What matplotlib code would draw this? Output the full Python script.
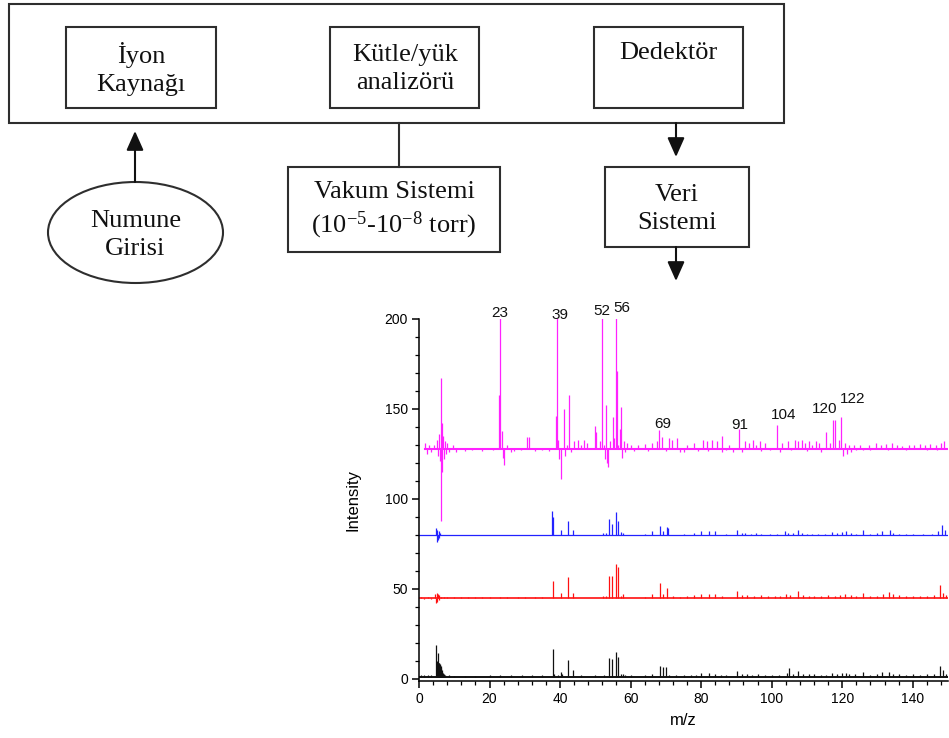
import matplotlib
matplotlib.use('Agg')
import matplotlib.pyplot as plt
from matplotlib.patches import Rectangle, Ellipse
from matplotlib.ticker import MultipleLocator

plt.rcParams['mathtext.fontset'] = 'custom'
plt.rcParams['mathtext.rm'] = 'Liberation Serif'
plt.rcParams['mathtext.it'] = 'Liberation Serif:italic'

# ---- block diagram labels ----
box_labels = ['İyon\nKaynağı', 'Kütle/yük\nanalizörü', 'Dedektör',
              'Vakum Sistemi\n(10$^{-5}$-10$^{-8}$ torr)', 'Veri\nSistemi']
inlet_label = 'Numune\nGirisi'

# ---- spectra (m/z, intensity at stick top) ----
baselines = [128, 80, 45, 1]
starts = [1.7, 0, 0.3, 0]
colors = ['#ff22ff', '#2222ff', '#ff1111', '#111111']

mag_mz = [1.8, 2.2, 2.8, 3.3, 4.2, 5.0, 5.4, 5.8, 6.0, 6.24, 6.3, 6.5, 6.6, 6.8, 7.0,
          7.3, 7.6, 8.0, 8.5, 9.5, 10.5, 13, 15, 18, 21, 22.6, 23.0, 23.5, 23.7, 24.1,
          25, 26, 27, 29, 30.5, 31.2, 33, 35, 37, 38.9, 39.0, 39.4, 39.8, 40.3, 41.0,
          41.5, 42.0, 42.6, 43.2, 44.0, 45.0, 46.0, 46.9, 47.5, 49.8, 50.2, 51.2, 52.0,
          52.4, 52.7, 53.0, 53.3, 53.7, 54.2, 55.0, 55.4, 55.8, 56.1, 56.5, 56.9, 57.3,
          57.6, 58.0, 58.5, 59, 60, 61, 62, 64, 65, 66, 67.5, 68.1, 68.8, 70, 70.9,
          71.7, 73.1, 74, 75, 76, 78, 79, 80.6, 81.7, 82, 83, 84.4, 85.8, 86, 87, 88,
          89, 90.7, 91.5, 92.4, 93.5, 94.6, 95.5, 96.7, 97, 98, 99.5, 101.6, 102.5, 103,
          104.5, 105.5, 106.5, 107.5, 108.5, 109.5, 110, 110.5, 111.5, 112.5, 113.5, 114,
          115.4, 116.4, 117.3, 118.0, 119.0, 119.7, 120.2, 120.8, 121.3, 121.8, 122.5,
          123.3, 124, 125, 126, 127.5, 128, 129.5, 131, 132.5, 133, 134, 135.5, 137, 138,
          139, 140.5, 142, 143.5, 144, 145, 146.5, 147, 148, 149]
mag_top = [131, 125, 130, 126, 130, 133, 124, 136, 121, 167, 88, 142, 115, 135, 122,
           132, 125, 131, 126, 130, 126, 126.5, 127, 126.5, 127, 158, 215, 138, 123, 119,
           130, 126, 126.5, 127, 134.6, 134.6, 126.5, 127, 126.5, 146, 215, 133, 122, 111, 150,
           124, 130, 158, 126, 132, 133, 130, 133, 131, 140.6, 137, 132, 215,
           130, 122, 152, 120, 118, 132, 145.7, 134, 215, 171, 130, 139, 151,
           123, 132, 126, 131, 130, 126.5, 130, 130.5, 126.5, 131, 132, 138.3, 134.6, 126.5, 134,
           133, 134, 126, 126, 130, 131, 126.5, 133, 132, 126.5, 133, 132, 135, 126, 127, 130,
           126, 139, 126, 132, 131, 133, 130, 132, 126.5, 131, 127, 141, 126, 131,
           132, 127, 133, 132, 133, 131, 126.5, 132, 130, 132, 131, 126,
           137, 131, 144, 144, 133, 145.3, 124, 131, 125, 130, 126,
           130, 127, 130, 127, 130, 127, 131, 130, 130.5, 127, 131, 130, 129.5, 127,
           130, 130, 130.5, 130, 127, 130.5, 130, 127, 131, 132]

blue_mz = [4.8, 5.0, 5.2, 5.4, 5.6, 5.8, 6.0, 37.8, 38.0, 40.2, 42.2, 43.8, 52.3, 53.0,
           54.0, 54.6, 56.0, 56.5, 57.2, 57.9, 64, 66.2, 68.3, 69.3, 70.2, 70.5, 75, 78,
           80.1, 82.1, 84, 87, 90.1, 91.5, 92.5, 94, 95.5, 97, 99.5, 101.5, 103.8, 104.5,
           106, 107.6, 108.5, 110, 111.5, 113, 115, 117, 118.5, 120, 121.2, 122.5, 124,
           126, 128, 130, 131.2, 133.5, 134.5, 136, 138, 140, 143, 145.5, 147.3, 148.2, 149.1]
blue_top = [84, 76, 83, 77, 82, 78.5, 81, 93.5, 90, 82.8, 88, 83, 81, 81.2,
            89, 86, 93, 88, 81.5, 81, 80.5, 82, 85, 82, 84.5, 84, 80.5, 81,
            82, 82.5, 82, 80.5, 83, 81, 81, 80.6, 81, 80.5, 80.6, 80.5, 82, 81,
            81, 83, 81, 80.7, 80.6, 80.6, 80.5, 81.5, 81, 81.5, 82.5, 81, 80.7,
            83, 80.6, 81, 82.5, 83, 81, 80.5, 80.6, 80.5, 80.6, 80.8, 82, 85.7, 83]

red_mz = [0.5, 1.5, 2.5, 3.5, 4.6, 4.8, 5.0, 5.2, 5.4, 5.6, 5.8, 6.2, 7, 8, 10, 12, 14,
          16, 18, 20, 23, 25, 28, 30, 33, 35, 37.9, 40.2, 42.2, 43.8, 52.3, 53.0, 54.0,
          54.6, 56.0, 56.5, 57.2, 57.9, 64, 66.2, 68.3, 69.3, 70.2, 72, 74, 76, 78, 80.1,
          82.1, 84, 86, 90.3, 91.5, 93, 95, 97, 99, 101, 102.5, 104, 105.2, 107.6, 109,
          110.5, 112, 114, 116, 118, 119.5, 120.8, 122.5, 124, 126, 128, 130, 131.5,
          133.4, 134.5, 136, 138, 140, 142, 144, 146, 147.7, 148.6, 149.5]
red_top = [45.8, 44.3, 45.6, 44.4, 47.5, 42.5, 48, 43, 47, 44, 46.5, 45.8, 45.6, 45.5,
           45.4, 45.5, 45.4, 45.5, 45.5, 45.4, 45.6, 45.5, 45.6, 45.5, 45.4, 45.5, 54.6,
           47.6, 56.5, 48, 46, 46.2, 57.2, 57, 63.9, 62, 46.3, 47, 45.8, 47, 53.1, 47,
           50.4, 46, 45.8, 46.2, 46.5, 47, 47.5, 47, 46, 49, 46.5, 46.5, 46.2, 46.5,
           46.2, 46, 46.2, 47.5, 46.5, 49, 46.5, 46.2, 46.2, 46, 46.5, 46.3, 46.5, 47.5,
           46.5, 46.3, 48, 46, 46.3, 47.5, 48.5, 47, 46.5, 46.3, 46, 46, 46.2, 46.5,
           52.2, 48, 46.5]

black_mz = [0.5, 1.5, 2.5, 3.5, 4.8, 5.1, 5.3, 5.5, 5.6, 5.7, 5.8, 5.9, 6.0, 6.1, 6.2,
            6.4, 6.6, 6.8, 7.0, 7.3, 8.5, 10, 13, 16, 20, 23, 26, 29.1, 32, 35, 37.9,
            38.2, 39.5, 40.2, 40.6, 42.2, 43.8, 46, 50, 52.5, 54, 54.6, 56.0, 56.5, 57.4,
            57.9, 58.5, 60, 64, 66.2, 68.3, 69.3, 70, 71, 73, 75, 77, 78.5, 80.1, 82.1,
            84, 85.5, 87, 90.3, 91.5, 93, 94.5, 96, 98, 100, 102, 104.3, 105, 106, 107.6,
            109, 110.5, 112, 114, 115.5, 117, 118.5, 120, 121, 122, 123.5, 126, 128, 130,
            131.4, 133.4, 134.5, 136, 138, 140, 142, 144, 146, 147.7, 148.6, 149.5]
black_top = [2, 2.2, 2, 2.1, 18.9, 10, 9, 14.2, 9, 9, 8.5, 8.5, 8, 7, 6,
             5, 4, 3.5, 3, 2.5, 2, 1.8, 1.9, 1.8, 2, 2.2, 2, 2.5, 2, 2.1, 16.4,
             3, 2.5, 4, 3, 10.5, 4.9, 2, 2.2, 2.5, 11.8, 10.9, 15, 12, 3,
             3, 2.5, 2, 2.2, 3, 7, 6.5, 6.5, 2.5, 2.3, 2.2, 2.5, 2.5, 3.5, 3.6,
             3, 2.5, 2.3, 4.4, 3, 2.6, 2.5, 3, 2.5, 2.5, 2.3, 3.5, 5.9, 3, 4.5,
             3, 2.7, 2.6, 2.5, 2.5, 3.3, 3, 3.5, 3.5, 3, 3, 3.8, 2.5, 2.7,
             3.7, 4, 3, 2.8, 2.5, 2.6, 2.5, 2.6, 3, 7.2, 5, 3]

peak_text = ['23', '39', '52', '56', '69', '91', '104', '120', '122']
peak_x = [23, 40, 51.8, 57.5, 69, 91, 103.4, 115, 123]
peak_y = [203.3, 202, 204.6, 206, 141.7, 141, 146.7, 150, 155.6]

x_ticks = [0, 20, 40, 60, 80, 100, 120, 140]
y_ticks = [0, 50, 100, 150, 200]

# ================= figure =================
fig = plt.figure(figsize=(9.49, 7.38), dpi=100)

# diagram drawn in pixel units
d = fig.add_axes([0, 0, 1, 1])
d.set_xlim(0, 949)
d.set_ylim(738, 0)
d.axis('off')

ec = '#2e2e2e'
lw = 1.5
# outer box and inner boxes (x, y, w, h)
rects = [(9, 4, 775, 119), (66, 27, 150, 81), (330, 27, 149, 81), (594, 27, 149, 81),
         (288, 167, 212, 85), (605, 167, 144, 80)]
for (x, y, w, h) in rects:
    d.add_patch(Rectangle((x, y), w, h, fill=False, ec=ec, lw=lw))
d.add_patch(Ellipse((135.5, 232.5), 175, 101, fill=False, ec=ec, lw=lw))

txt = dict(family='Liberation Serif', fontsize=19, ha='center', va='center',
           linespacing=1.3, color='#111111')
d.text(141, 69, box_labels[0], **txt)
d.text(405, 69, box_labels[1], **txt)
d.text(668, 53, box_labels[2], **txt)
d.text(394, 211, box_labels[3], **txt)
d.text(677, 209, box_labels[4], **txt)
d.text(135.5, 235, inlet_label, **txt)

# connectors
d.plot([399, 399], [123, 167], color=ec, lw=lw)
arr = dict(arrowstyle='-|>,head_length=0.9,head_width=0.4', color='#111111', lw=lw,
           shrinkA=0, shrinkB=0, mutation_scale=13)
d.annotate('', xy=(135, 131), xytext=(135, 182), arrowprops=arr)
d.annotate('', xy=(676, 157), xytext=(676, 123), arrowprops=arr)
d.annotate('', xy=(676, 281), xytext=(676, 247), arrowprops=arr)

# ================= spectrum =================
ax = fig.add_axes([419 / 949, (738 - 680.8) / 738, 529 / 949, (680.8 - 319) / 738])
ax.patch.set_alpha(0)

series = [(mag_mz, mag_top), (blue_mz, blue_top), (red_mz, red_top), (black_mz, black_top)]
base_lw = [1.5, 0.9, 1.2, 1.4]
for (mz, top), b, s, c, blw in zip(series, baselines, starts, colors, base_lw):
    ax.plot([s, 150], [b, b], color=c, lw=blw)
    ax.vlines(mz, b, top, color=c, lw=0.9)

for t, x, y in zip(peak_text, peak_x, peak_y):
    ax.text(x, y, t, ha='center', va='center', fontsize=11,
            family='Liberation Sans', color='#111111')

ax.set_xlim(0, 150)
ax.set_ylim(-1, 200)
ax.set_xticks(x_ticks)
ax.set_yticks(y_ticks)
ax.xaxis.set_minor_locator(MultipleLocator(4))
ax.yaxis.set_minor_locator(MultipleLocator(10))
for sp in ['top', 'right']:
    ax.spines[sp].set_visible(False)
for sp in ['left', 'bottom']:
    ax.spines[sp].set_linewidth(1.1)
ax.tick_params(which='major', direction='out', length=5, width=1.1, labelsize=10, pad=3)
ax.tick_params(which='minor', direction='out', length=3, width=0.9)
for lab in ax.get_xticklabels() + ax.get_yticklabels():
    lab.set_family('Liberation Sans')
ax.set_xlabel('m/z', fontsize=12, family='Liberation Sans', labelpad=5)
ax.set_ylabel('Intensity', fontsize=12, family='Liberation Sans', labelpad=17)

fig.savefig('out.png', dpi=100)
